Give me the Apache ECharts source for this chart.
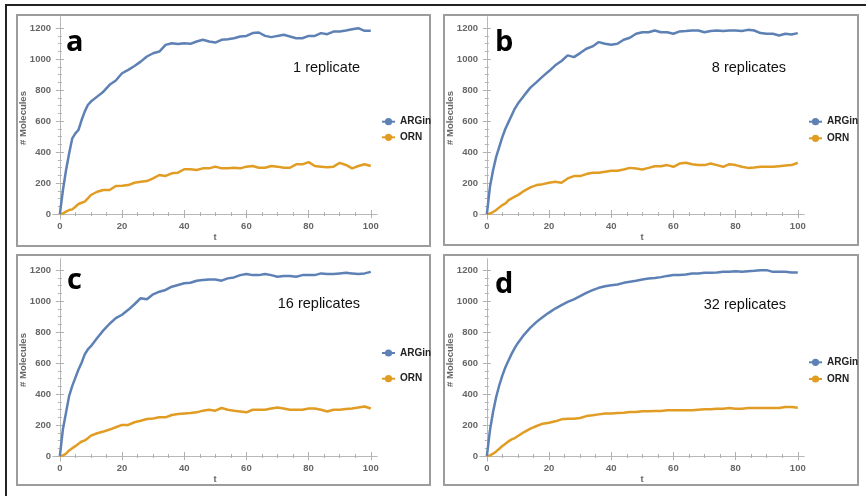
<!DOCTYPE html>
<html><head><meta charset="utf-8">
<script src="https://cdn.jsdelivr.net/npm/echarts@6/dist/echarts.min.js"></script>
<style>html,body{margin:0;padding:0;background:#fff}#c{width:866px;height:496px}</style>
</head><body><div id="c"></div>
<script>
// ---- data ----
const t = [0,1,2,3,4,5,6,7,8,9,10,12,14,16,18,20,22,24,26,28,30,32,34,36,38,40,42,44,46,48,50,52,54,56,58,60,62,64,66,68,70,72,74,76,78,80,82,84,86,88,90,92,94,96,98,100];

const argA = [0,155,284,392,489,521,543,607,661,704,726,758,790,834,862,909,931,956,984,1017,1038,1049,1092,1103,1097,1103,1099,1114,1125,1114,1107,1125,1129,1135,1146,1150,1168,1172,1150,1142,1150,1157,1146,1135,1135,1150,1150,1168,1161,1178,1178,1185,1193,1200,1183,1183];
const ornA = [0,4,15,26,30,47,65,73,80,101,123,144,155,155,181,183,187,202,209,213,230,252,246,263,267,289,289,284,295,295,306,295,295,299,295,306,310,299,299,310,306,299,299,321,321,335,310,306,302,306,330,317,295,310,321,310];

const argB = [0,176,283,369,434,498,552,595,638,681,713,766,816,852,889,923,960,988,1024,1013,1039,1067,1082,1110,1099,1093,1099,1125,1138,1164,1174,1174,1185,1174,1174,1164,1179,1181,1185,1185,1174,1181,1185,1181,1185,1185,1181,1189,1185,1168,1164,1164,1153,1164,1159,1168];
const ornB = [0,4,13,26,43,58,69,90,101,112,122,150,172,187,193,202,208,202,230,245,245,258,266,266,273,279,279,288,298,294,288,298,309,309,316,305,326,331,322,316,316,326,316,305,322,316,305,298,301,305,305,305,309,313,316,331];

const argC = [0,175,282,389,453,506,559,602,656,688,709,762,811,854,890,912,944,980,1019,1012,1044,1061,1072,1093,1104,1115,1119,1132,1136,1140,1140,1132,1147,1153,1168,1175,1168,1168,1175,1168,1157,1162,1162,1157,1168,1168,1168,1179,1175,1175,1179,1183,1179,1175,1179,1189];
const ornC = [0,4,15,36,51,64,79,94,100,115,132,147,158,171,186,201,201,218,228,239,243,250,250,265,271,275,278,282,293,299,293,310,299,293,288,282,299,299,299,307,314,307,299,299,299,307,307,299,288,299,299,303,307,314,320,307];

const argD = [0,166,284,381,457,521,575,618,661,698,730,784,829,866,898,926,952,974,995,1012,1032,1053,1071,1086,1096,1103,1107,1118,1125,1131,1140,1146,1150,1155,1163,1168,1168,1172,1178,1178,1183,1183,1185,1189,1189,1193,1189,1193,1196,1200,1200,1189,1189,1189,1185,1185];
const ornD = [0,4,15,30,47,65,80,95,108,116,129,155,177,194,209,215,224,237,241,241,246,258,263,269,274,274,278,280,284,284,289,289,291,291,295,295,295,295,295,299,302,302,306,306,310,306,306,310,310,310,310,310,310,317,317,312];

const seriesNames = ['ARGin','ORN'];
const panelLetters = ['a','b','c','d'];
const panelNotes = ['1 replicate','8 replicates','16 replicates','32 replicates'];

const xMajor = [0,20,40,60,80,100];
const xMinor = [5,10,15,25,30,35,45,50,55,65,70,75,85,90,95];
const yMajor = [0,200,400,600,800,1000,1200];
const yMinor = [50,100,150,250,300,350,450,500,550,650,700,750,850,900,950,1050,1100,1150];

// ---- layout / style ----
const BLUE = '#5e81b5', ORANGE = '#e19c24';
const FRAME = '#b8b8b8', TICKC = '#b0b0b0', LAB = '#666666';
const FONT = '"Liberation Sans", Arial, sans-serif';
const layout = [
  {left:53, top:17, leg:381, legY:[121.7,137.3], box:[17,15,413,231], let:[66,43], note:[360,68]},
  {left:480, top:17, leg:808, legY:[121.7,138.3], box:[444,15,414,230], let:[495,43], note:[786,68]},
  {left:53, top:259, leg:381, legY:[353,378.7], box:[17,255,413,230], let:[67,281], note:[360,304]},
  {left:480, top:259, leg:808, legY:[362.3,379], box:[444,255,414,230], let:[495,285], note:[786,305]}
];
const data = [[argA,ornA],[argB,ornB],[argC,ornC],[argD,ornD]];

const grids=[], xAxes=[], yAxes=[], series=[], legends=[], graphics=[];
const labelFont = {fontFamily:FONT, fontSize:9.5, fontWeight:'bold', color:LAB};
const plain = v => String(v);

layout.forEach((L,i)=>{
  grids.push({left:L.left, top:L.top, width:324, height:202});
  const xb = {type:'value', gridIndex:i, min:-2.2, max:102, splitLine:{show:false}};
  const yb = {type:'value', gridIndex:i, min:-32, max:1272, splitLine:{show:false}};
  const line = {show:true, lineStyle:{color:FRAME, width:1}};
  const maj = v => ({show:true, inside:true, length:4, customValues:v, lineStyle:{color:TICKC}});
  const min = v => ({show:true, inside:true, length:2, customValues:v, lineStyle:{color:TICKC}});
  xAxes.push(Object.assign({}, xb, {position:'bottom', axisLine:line, axisTick:maj(xMajor),
    axisLabel:Object.assign({customValues:xMajor, margin:2, formatter:plain}, labelFont),
    name:'t', nameLocation:'middle', nameGap:13, nameMoveOverlap:false, nameTextStyle:labelFont}));
  xAxes.push(Object.assign({}, xb, {position:'bottom', axisLine:{show:false}, axisTick:min(xMinor), axisLabel:{show:false}}));
  xAxes.push(Object.assign({}, xb, {position:'top', axisLine:line, axisTick:maj(xMajor), axisLabel:{show:false}}));
  xAxes.push(Object.assign({}, xb, {position:'top', axisLine:{show:false}, axisTick:min(xMinor), axisLabel:{show:false}}));
  yAxes.push(Object.assign({}, yb, {position:'left', axisLine:line, axisTick:maj(yMajor),
    axisLabel:Object.assign({customValues:yMajor, margin:2, formatter:plain}, labelFont),
    name:'# Molecules', nameLocation:'middle', nameGap:25, nameMoveOverlap:false, nameTextStyle:labelFont}));
  yAxes.push(Object.assign({}, yb, {position:'left', axisLine:{show:false}, axisTick:min(yMinor), axisLabel:{show:false}}));
  yAxes.push(Object.assign({}, yb, {position:'right', axisLine:line, axisTick:maj(yMajor), axisLabel:{show:false}}));
  yAxes.push(Object.assign({}, yb, {position:'right', axisLine:{show:false}, axisTick:min(yMinor), axisLabel:{show:false}}));

  [BLUE, ORANGE].forEach((col,k)=>{
    series.push({type:'line', name:seriesNames[k], xAxisIndex:4*i, yAxisIndex:4*i,
      data:t.map((x,j)=>[x, data[i][k][j]]), symbol:'circle', showSymbol:false,
      lineStyle:{color:col, width:2.5}, itemStyle:{color:col}, silent:true, z:3-k});
    legends.push({data:[seriesNames[k]], left:L.leg, top:L.legY[k]-5, padding:0,
      itemWidth:13, itemHeight:9, itemGap:5, selectedMode:false,
      textStyle:{fontFamily:FONT, fontSize:10, fontWeight:'bold', color:'#222'}});
  });

  const b = L.box;
  graphics.push({type:'rect', shape:{x:b[0], y:b[1], width:b[2], height:b[3]},
    style:{fill:'none', stroke:'#9c9c9c', lineWidth:2}, silent:true});
  graphics.push({type:'text', x:L.let[0], y:L.let[1], style:{text:panelLetters[i],
    font:'bold 29px "Open Sans", sans-serif', fill:'#000', align:'left', verticalAlign:'middle'}, silent:true});
  graphics.push({type:'text', x:L.note[0], y:L.note[1], style:{text:panelNotes[i],
    font:'14.5px "Liberation Sans", Arial, sans-serif', fill:'#111', align:'right', verticalAlign:'middle'}, silent:true});
});

graphics.push({type:'line', shape:{x1:5, y1:5, x2:866, y2:5}, style:{stroke:'#222', lineWidth:2}, silent:true});
graphics.push({type:'line', shape:{x1:6, y1:5, x2:6, y2:496}, style:{stroke:'#222', lineWidth:2}, silent:true});

const chart = echarts.init(document.getElementById('c'), null, {renderer:'canvas'});
chart.setOption({
  animation:false, backgroundColor:'#fff',
  grid:grids, xAxis:xAxes, yAxis:yAxes, series:series, legend:legends, graphic:graphics
});
</script></body></html>
